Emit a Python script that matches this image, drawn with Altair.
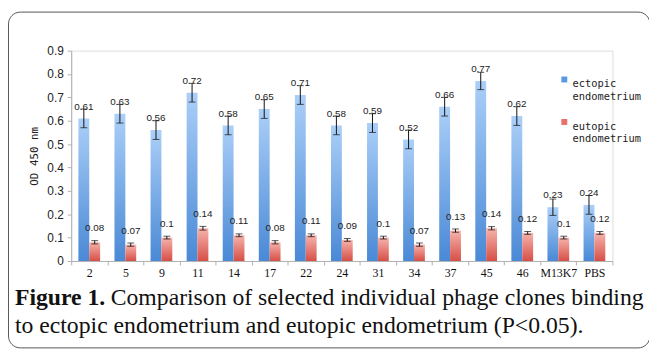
import altair as alt
import pandas as pd

cats = ["2", "5", "9", "11", "14", "17", "22", "24", "31", "34", "37", "45", "46", "M13K7", "PBS"]
ectopic = [0.61, 0.63, 0.56, 0.72, 0.58, 0.65, 0.71, 0.58, 0.59, 0.52, 0.66, 0.77, 0.62, 0.23, 0.24]
eutopic = [0.08, 0.07, 0.10, 0.14, 0.11, 0.08, 0.11, 0.09, 0.10, 0.07, 0.13, 0.14, 0.12, 0.10, 0.12]
ectopic_err = [0.04, 0.04, 0.04, 0.04, 0.04, 0.04, 0.04, 0.04, 0.04, 0.04, 0.04, 0.037, 0.04, 0.035, 0.04]
eutopic_err = [0.007, 0.007, 0.006, 0.008, 0.006, 0.007, 0.006, 0.006, 0.006, 0.007, 0.007, 0.007, 0.006, 0.006, 0.006]
y_ticks = [0, 0.1, 0.2, 0.3, 0.4, 0.5, 0.6, 0.7, 0.8, 0.9]
series = ["ectopic endometrium", "eutopic endometrium"]
caption_bold = "Figure 1."
caption_line1 = "Comparison of selected individual phage clones binding"
caption_line2 = "to ectopic endometrium and eutopic endometrium (P<0.05)."

rows = []
for c, v, e in zip(cats, ectopic, ectopic_err):
    rows.append({"cat": c, "series": series[0], "v": v, "lo": v - e, "hi": v + e})
for c, v, e in zip(cats, eutopic, eutopic_err):
    rows.append({"cat": c, "series": series[1], "v": v, "lo": v - e, "hi": v + e})
df = pd.DataFrame(rows)

x = alt.X("cat:N", sort=cats, title=None,
          scale=alt.Scale(paddingInner=0, paddingOuter=0),
          axis=alt.Axis(labelAngle=0, tickBand="extent", domainColor="#b0b0b0", tickColor="#b0b0b0",
                        tickSize=4, labelFont="Liberation Serif", labelFontSize=12, labelColor="#111",
                        labelPadding=3))
xo = alt.XOffset("series:N", sort=series, scale=alt.Scale(domain=series, paddingInner=0, paddingOuter=0.66))

y_axis = alt.Axis(values=y_ticks, format="~g", grid=False, labelOverlap=False, tickCount=10,
                  domainColor="#b0b0b0", tickColor="#b0b0b0", tickSize=4,
                  labelFont="Liberation Sans", labelFontSize=12, labelColor="#222", labelPadding=4,
                  titleFont="DejaVu Sans Mono", titleFontSize=11, titleFontWeight="normal",
                  titleColor="#222", titlePadding=7)
y_scale = alt.Scale(domain=[0, 0.9], nice=False)


def yq(field):
    return alt.Y(f"{field}:Q", title="OD  450  nm", scale=y_scale, axis=y_axis)


blue_grad = alt.Gradient(gradient="linear", x1=0, y1=0, x2=0, y2=1,
                         stops=[alt.GradientStop(color="#abcff8", offset=0),
                                alt.GradientStop(color="#4a89d6", offset=1)])
red_grad = alt.Gradient(gradient="linear", x1=0, y1=0, x2=0, y2=1,
                        stops=[alt.GradientStop(color="#f6b4ad", offset=0),
                               alt.GradientStop(color="#d64f47", offset=1)])

base = alt.Chart(df)
blue = base.transform_filter(alt.datum.series == series[0])
red = base.transform_filter(alt.datum.series == series[1])

bars_b = blue.mark_bar(color=blue_grad).encode(x=x, xOffset=xo, y=yq("v"))
bars_r = red.mark_bar(color=red_grad).encode(x=x, xOffset=xo, y=yq("v"))

err = base.mark_rule(color="#111", strokeWidth=1).encode(x=x, xOffset=xo, y=yq("lo"), y2="hi:Q")
cap_hi = base.mark_tick(color="#111", thickness=1, size=7).encode(x=x, xOffset=xo, y=yq("hi"))
cap_lo = base.mark_tick(color="#111", thickness=1, size=7).encode(x=x, xOffset=xo, y=yq("lo"))

lab_b = blue.mark_text(font="Liberation Sans", fontSize=10, color="#222", dy=-12, baseline="middle").encode(
    x=x, xOffset=xo, y=yq("v"), text=alt.Text("v:Q", format=".2~f"))
lab_r = red.mark_text(font="Liberation Sans", fontSize=10, color="#222", dy=-14, baseline="middle").encode(
    x=x, xOffset=xo, y=yq("v"), text=alt.Text("v:Q", format=".2~f"))

legend_layer = base.mark_square(size=0, opacity=0).encode(
    color=alt.Color("series:N", scale=alt.Scale(domain=series, range=["#5a9ae2", "#e8716a"]),
                    legend=alt.Legend(title=None, orient="none", legendX=494, legendY=24,
                                      symbolType="square", symbolSize=36, symbolOpacity=1,
                                      symbolStrokeWidth=0,
                                      labelExpr="split(datum.label, ' ')",
                                      labelFont="DejaVu Sans Mono", labelFontSize=10.5, labelColor="#222",
                                      labelBaseline="top", labelOffset=3,
                                      rowPadding=14, labelLimit=200)))

one = pd.DataFrame({"k": [0]})
frame = alt.Chart(one).mark_rect(fillOpacity=0, stroke="#555", strokeWidth=1, cornerRadius=12).encode(
    x=alt.value(-63.5), x2=alt.value(586), y=alt.value(-39), y2=alt.value(301))
cap1 = alt.Chart(one).mark_text(font="Liberation Serif", fontSize=24, fontWeight="bold", align="left",
                                baseline="alphabetic", color="#111").encode(
    x=alt.value(-57), y=alt.value(258), text=alt.value(caption_bold))
cap2 = alt.Chart(one).mark_text(font="Liberation Serif", fontSize=24, align="left",
                                baseline="alphabetic", color="#111").encode(
    x=alt.value(40), y=alt.value(258), text=alt.value(caption_line1))
cap3 = alt.Chart(one).mark_text(font="Liberation Serif", fontSize=24, align="left",
                                baseline="alphabetic", color="#111").encode(
    x=alt.value(-57), y=alt.value(286), text=alt.value(caption_line2))

chart = alt.layer(bars_b, bars_r, err, cap_hi, cap_lo, lab_b, lab_r, legend_layer, frame, cap1, cap2, cap3).properties(
    width=548, height=213,
    autosize=alt.AutoSizeParams(type="none"),
    padding={"left": 64, "top": 41, "right": 37, "bottom": 89},
).configure_view(stroke=None).configure(background="white")

chart.save("out.html", embed_options={"renderer": "svg", "actions": False})
